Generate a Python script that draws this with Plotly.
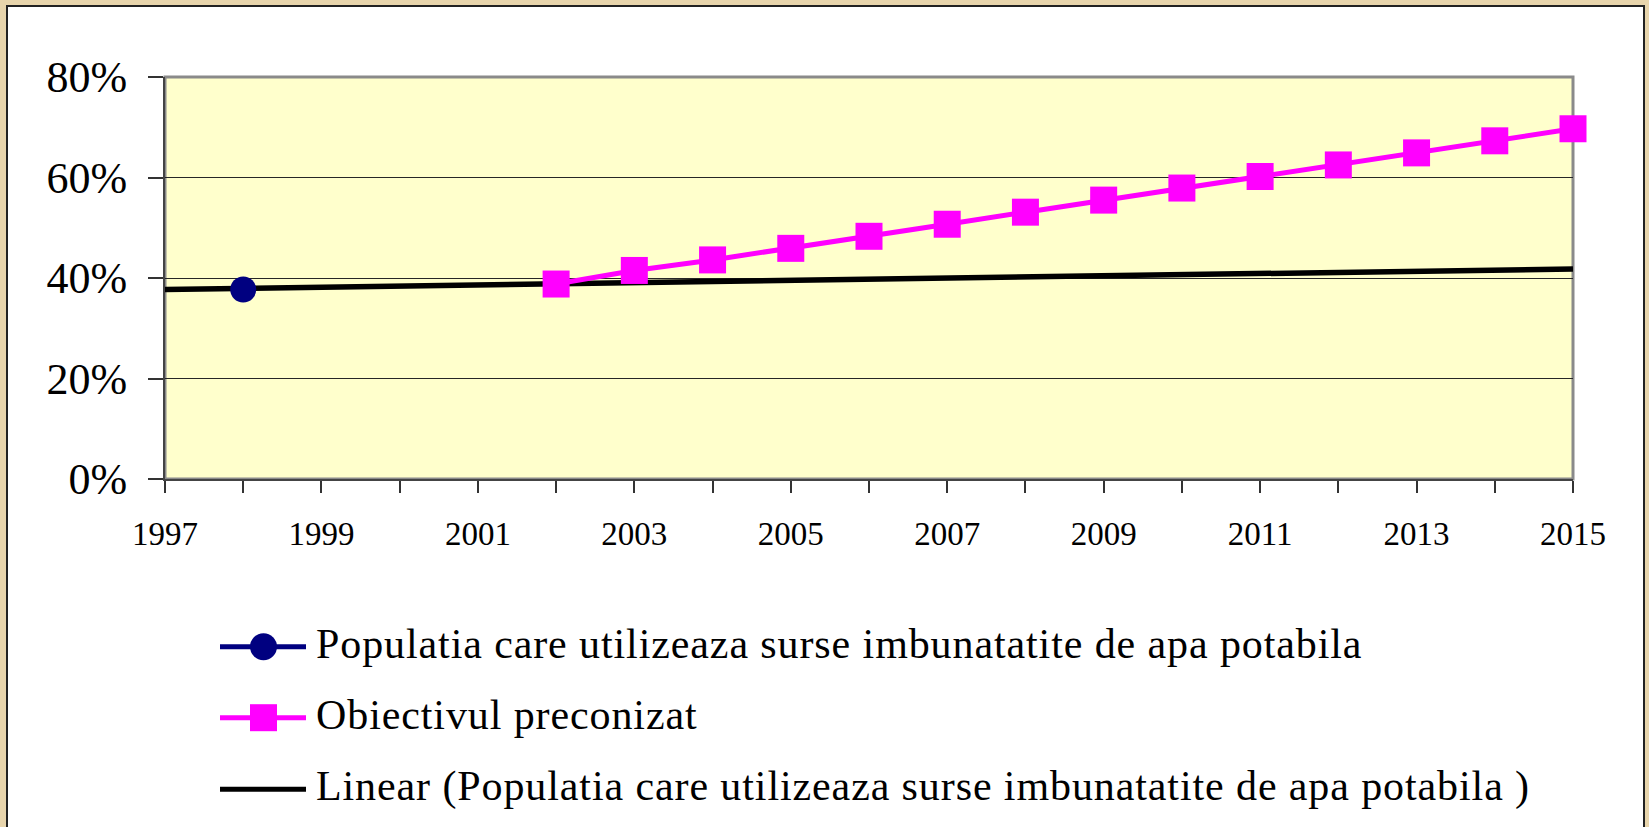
import plotly.graph_objects as go

# ---- data ----
pop_years = [1998]
pop_values = [0.377]

target_years = list(range(2002, 2016))
target_values = [0.388, 0.415, 0.436, 0.459, 0.483, 0.507, 0.531, 0.555,
                 0.579, 0.602, 0.625, 0.649, 0.673, 0.697]

trend_years = [1997, 2015]
trend_values = [0.377, 0.418]

tick_years = list(range(1997, 2016))
tick_labels = [str(y) if y % 2 == 1 else "" for y in tick_years]

legend_names = [
    "Populatia care utilizeaza surse imbunatatite de apa potabila",
    "Obiectivul preconizat",
    "Linear (Populatia care utilizeaza surse imbunatatite de apa potabila )",
]

# ---- layout geometry (pixels) ----
W, H = 1649, 827
L, R, T, B = 165, 1573, 77, 479
PW, PH = R - L, B - T


def px(x):
    return (x - L) / PW


def py(y):
    return (B - y) / PH


FONT = "Liberation Serif"
NAVY = "#000080"
MAGENTA = "#FF00FF"

fig = go.Figure()

fig.add_trace(go.Scatter(
    x=trend_years, y=trend_values, mode="lines",
    line=dict(color="black", width=5.5), name=legend_names[2],
    showlegend=False, cliponaxis=False,
))
fig.add_trace(go.Scatter(
    x=target_years, y=target_values, mode="lines+markers",
    line=dict(color=MAGENTA, width=5),
    marker=dict(symbol="square", size=27, color=MAGENTA),
    name=legend_names[1], showlegend=False, cliponaxis=False,
))
fig.add_trace(go.Scatter(
    x=pop_years, y=pop_values, mode="lines+markers",
    line=dict(color=NAVY, width=5),
    marker=dict(symbol="circle", size=26, color=NAVY),
    name=legend_names[0], showlegend=False, cliponaxis=False,
))

shapes = [
    # white chart panel
    dict(type="rect", xref="paper", yref="paper",
         x0=px(7), x1=px(1644), y0=py(860), y1=py(6),
         fillcolor="white", line=dict(color="#222222", width=2), layer="below"),
    # plot area
    dict(type="rect", xref="paper", yref="paper",
         x0=0, x1=1, y0=0, y1=1,
         fillcolor="#FFFFCC", line=dict(color="#8a8a8a", width=3), layer="below"),
]

annotations = []
legend_rows = [646.7, 717.7, 789.3]
legend_colors = [NAVY, MAGENTA, "black"]
legend_symbols = ["circle", "rect", None]
for name, yrow, col, sym in zip(legend_names, legend_rows, legend_colors, legend_symbols):
    shapes.append(dict(type="line", xref="paper", yref="paper",
                       x0=px(220), x1=px(306), y0=py(yrow), y1=py(yrow),
                       line=dict(color=col, width=5), layer="above"))
    if sym is not None:
        shapes.append(dict(type=sym, xref="paper", yref="paper",
                           xsizemode="pixel", ysizemode="pixel",
                           xanchor=px(263.5), yanchor=py(yrow),
                           x0=-13.5, x1=13.5, y0=-13.5, y1=13.5,
                           fillcolor=col, line=dict(color=col, width=0),
                           layer="above"))
    annotations.append(dict(
        xref="paper", yref="paper", x=px(314), y=py(yrow - 3),
        xanchor="left", yanchor="middle", showarrow=False,
        text='<span style="letter-spacing:0.9px">' + name + "</span>",
        font=dict(family=FONT, size=42, color="black"),
    ))

fig.update_layout(
    width=W, height=H,
    margin=dict(l=L, r=W - R, t=T, b=H - B),
    paper_bgcolor="#E8D5AC",
    plot_bgcolor="rgba(0,0,0,0)",
    showlegend=False,
    shapes=shapes,
    annotations=annotations,
    xaxis=dict(
        range=[1997, 2015], tickmode="array", tickvals=tick_years, ticktext=tick_labels,
        showgrid=False, zeroline=False,
        showline=True, linecolor="#444444", linewidth=2,
        ticks="outside", ticklen=12, tickwidth=1.5, tickcolor="#333333",
        tickfont=dict(family=FONT, size=33, color="black"),
        ticklabelstandoff=12,
    ),
    yaxis=dict(
        range=[0, 0.8], tickmode="array", tickvals=[0, 0.2, 0.4, 0.6, 0.8],
        ticktext=["0%", "20%", "40%", "60%", "80%"],
        showgrid=True, gridcolor="#262626", gridwidth=1.4, zeroline=False,
        showline=True, linecolor="#444444", linewidth=2,
        ticks="outside", ticklen=15, tickwidth=1.5, tickcolor="#333333",
        tickfont=dict(family=FONT, size=44, color="black"),
        ticklabelstandoff=12,
    ),
)

fig.write_html("out.html", config={"displayModeBar": False},
               post_script="document.body.style.margin='0';")
